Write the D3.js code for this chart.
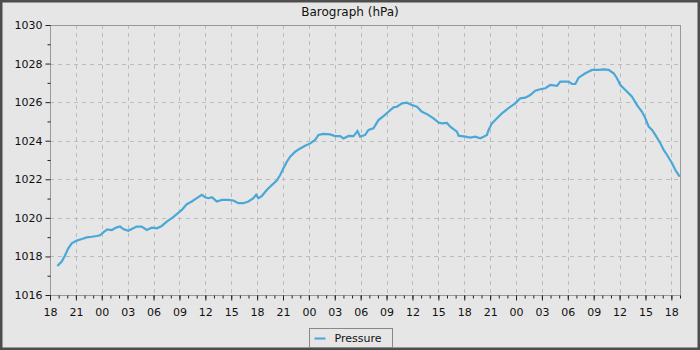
<!DOCTYPE html>
<html>
<head>
<meta charset="utf-8">
<script src="https://cdn.jsdelivr.net/npm/d3@7"></script>
<style>
  body { margin: 0; background: #e6e6e6; }
  svg { display: block; font-family: "DejaVu Sans", sans-serif; }
</style>
</head>
<body>
<div id="chart"></div>
<script>
// hours after 18:00 on the first day
var hours = [0.85, 1.36, 1.74, 2.12, 2.52, 3.10, 3.68, 4.26, 4.83, 5.41, 5.80, 6.18, 6.64, 7.15, 7.73, 8.12,
  8.50, 9.08, 9.47, 10.05, 10.63, 11.21, 11.79, 12.37, 12.95, 13.53, 14.11, 14.69, 15.27, 15.85, 16.43,
  17.01, 17.59, 17.97, 18.35, 18.75, 19.33, 19.91, 20.67, 21.25, 21.83, 22.41, 22.99, 23.57, 23.88, 24.15,
  24.54, 25.12, 25.70, 26.28, 26.67, 27.05, 27.44, 27.83, 28.41, 28.99, 29.57, 30.14, 30.72, 31.11, 31.69,
  32.46, 33.04, 33.62, 34.01, 34.59, 35.17, 35.63, 35.94, 36.52, 36.90, 37.48, 38.06, 38.64, 39.22, 39.80,
  40.20, 40.78, 41.36, 41.94, 42.52, 43.10, 43.68, 44.44, 45.02, 45.41, 45.99, 46.38, 47.15, 47.34, 48.12,
  48.70, 49.28, 49.86, 50.24, 50.63, 50.82, 51.21, 51.79, 52.37, 52.95, 53.33, 53.91, 54.49, 55.07, 55.65,
  56.23, 56.81, 57.39, 57.97, 58.75, 59.13, 59.71, 60.09, 60.49, 60.87, 61.25, 62.03, 62.81, 63.57, 64.15,
  64.73, 65.31, 65.70, 66.09, 66.67, 67.05, 67.44, 68.02, 68.60, 68.99, 69.37, 69.76, 70.14, 70.72, 71.11,
  71.50, 72.08, 72.46, 72.85, 72.97];

var pressure = [1017.50, 1017.73, 1018.05, 1018.42, 1018.68, 1018.82, 1018.90, 1018.99, 1019.02, 1019.06,
  1019.10, 1019.25, 1019.40, 1019.37, 1019.51, 1019.55, 1019.42, 1019.33, 1019.42, 1019.55, 1019.55, 1019.37,
  1019.49, 1019.46, 1019.58, 1019.80, 1019.98, 1020.19, 1020.41, 1020.71, 1020.85, 1021.02, 1021.19, 1021.07,
  1021.02, 1021.07, 1020.85, 1020.93, 1020.93, 1020.90, 1020.76, 1020.76, 1020.85, 1021.02, 1021.19, 1021.02,
  1021.13, 1021.44, 1021.70, 1021.93, 1022.22, 1022.57, 1022.91, 1023.17, 1023.43, 1023.60, 1023.74, 1023.86,
  1024.04, 1024.30, 1024.35, 1024.33, 1024.24, 1024.24, 1024.12, 1024.25, 1024.24, 1024.50, 1024.21, 1024.30,
  1024.56, 1024.64, 1025.07, 1025.28, 1025.50, 1025.73, 1025.76, 1025.94, 1025.97, 1025.85, 1025.76, 1025.50,
  1025.38, 1025.16, 1024.94, 1024.90, 1024.92, 1024.73, 1024.47, 1024.26, 1024.21, 1024.16, 1024.21, 1024.13,
  1024.21, 1024.30, 1024.56, 1024.90, 1025.16, 1025.42, 1025.63, 1025.76, 1025.94, 1026.20, 1026.23, 1026.37,
  1026.59, 1026.67, 1026.72, 1026.89, 1026.84, 1027.06, 1027.06, 1027.06, 1026.94, 1026.94, 1027.27, 1027.50,
  1027.67, 1027.67, 1027.70, 1027.67, 1027.50, 1027.24, 1026.89, 1026.63, 1026.46, 1026.28, 1025.85, 1025.50,
  1025.16, 1024.73, 1024.56, 1024.30, 1023.87, 1023.52, 1023.26, 1022.83, 1022.48, 1022.22, 1022.13, 1021.91,
  1021.85];

var yTicks = [1016, 1018, 1020, 1022, 1024, 1026, 1028, 1030];
var seriesName = "Pressure";
var title = "Barograph (hPa)";

var width = 700, height = 350;
var start = new Date(2024, 0, 1, 18, 0);
var end = d3.timeHour.offset(start, 73);

var data = hours.map(function (h, i) {
  return {t: new Date(start.getTime() + h * 3600000), v: pressure[i]};
});

var svg = d3.select("#chart").append("svg")
  .attr("width", width)
  .attr("height", height);

svg.append("rect")
  .attr("x", 1).attr("y", 1)
  .attr("width", width - 2).attr("height", height - 2)
  .attr("fill", "#e6e6e6")
  .attr("stroke", "#4d4d4d")
  .attr("stroke-width", 3);

var x = d3.scaleTime().domain([start, end]).range([50, 680]);
var y = d3.scaleLinear().domain([1016, 1030]).range([295, 25]);

// grid
var majorTimes = d3.timeHour.every(3).range(start, end);
svg.append("g").selectAll("line.vg")
  .data(majorTimes.slice(1))
  .enter().append("line")
  .attr("x1", function (d) { return Math.round(x(d)) + 0.5; })
  .attr("x2", function (d) { return Math.round(x(d)) + 0.5; })
  .attr("y1", 25).attr("y2", 295)
  .attr("stroke", "#bcbcbc")
  .attr("stroke-dasharray", "4,4");

svg.append("g").selectAll("line.hg")
  .data(yTicks.slice(1, -1))
  .enter().append("line")
  .attr("x1", 50).attr("x2", 680)
  .attr("y1", function (d) { return Math.round(y(d)) + 0.5; })
  .attr("y2", function (d) { return Math.round(y(d)) + 0.5; })
  .attr("stroke", "#bcbcbc")
  .attr("stroke-dasharray", "4,4");

// frame
svg.append("rect")
  .attr("x", 50.5).attr("y", 25.5)
  .attr("width", 630).attr("height", 270)
  .attr("fill", "none")
  .attr("stroke", "#999");

// x axis
var xAxis = d3.axisBottom(x)
  .ticks(d3.timeHour.every(3))
  .tickFormat(d3.timeFormat("%H"))
  .tickSize(5);
var gx = svg.append("g").attr("transform", "translate(0,295.5)").call(xAxis);
gx.select(".domain").remove();
gx.selectAll("text").attr("font-size", 11).attr("fill", "#111").attr("dy", "1.1em")
  .attr("font-family", "DejaVu Sans");
gx.selectAll("line").attr("stroke", "#222");

var gxm = svg.append("g").attr("transform", "translate(0,295.5)")
  .call(d3.axisBottom(x).ticks(d3.timeHour.every(1)).tickFormat("").tickSize(3));
gxm.select(".domain").remove();
gxm.selectAll("line").attr("stroke", "#222");

// y axis
var gy = svg.append("g").attr("transform", "translate(50.5,0)")
  .call(d3.axisLeft(y).tickValues(yTicks).tickFormat(d3.format("d")).tickSize(5));
gy.select(".domain").remove();
gy.selectAll("text").attr("font-size", 11).attr("fill", "#111")
  .attr("font-family", "DejaVu Sans");
gy.selectAll("line").attr("stroke", "#222");

var gym = svg.append("g").attr("transform", "translate(50.5,0)")
  .call(d3.axisLeft(y).tickValues(d3.range(1017, 1030, 2)).tickFormat("").tickSize(3));
gym.select(".domain").remove();
gym.selectAll("line").attr("stroke", "#222");

// the pressure line
var line = d3.line()
  .x(function (d) { return x(d.t); })
  .y(function (d) { return y(d.v); });

svg.append("path")
  .datum(data)
  .attr("fill", "none")
  .attr("stroke", "#4aa8d8")
  .attr("stroke-width", 2.2)
  .attr("d", line);

// title
svg.append("text")
  .attr("x", width / 2).attr("y", 16)
  .attr("text-anchor", "middle")
  .attr("font-size", 12)
  .attr("fill", "#111")
  .text(title);

// legend
var legend = svg.append("g").attr("transform", "translate(309.5,328.5)");
legend.append("rect")
  .attr("width", 83).attr("height", 19)
  .attr("fill", "#e6e6e6")
  .attr("stroke", "#888");
legend.append("line")
  .attr("x1", 5).attr("x2", 16)
  .attr("y1", 10).attr("y2", 10)
  .attr("stroke", "#4aa8d8")
  .attr("stroke-width", 2);
legend.append("text")
  .attr("x", 25).attr("y", 13.5)
  .attr("font-size", 11)
  .attr("fill", "#111")
  .text(seriesName);
</script>
</body>
</html>
